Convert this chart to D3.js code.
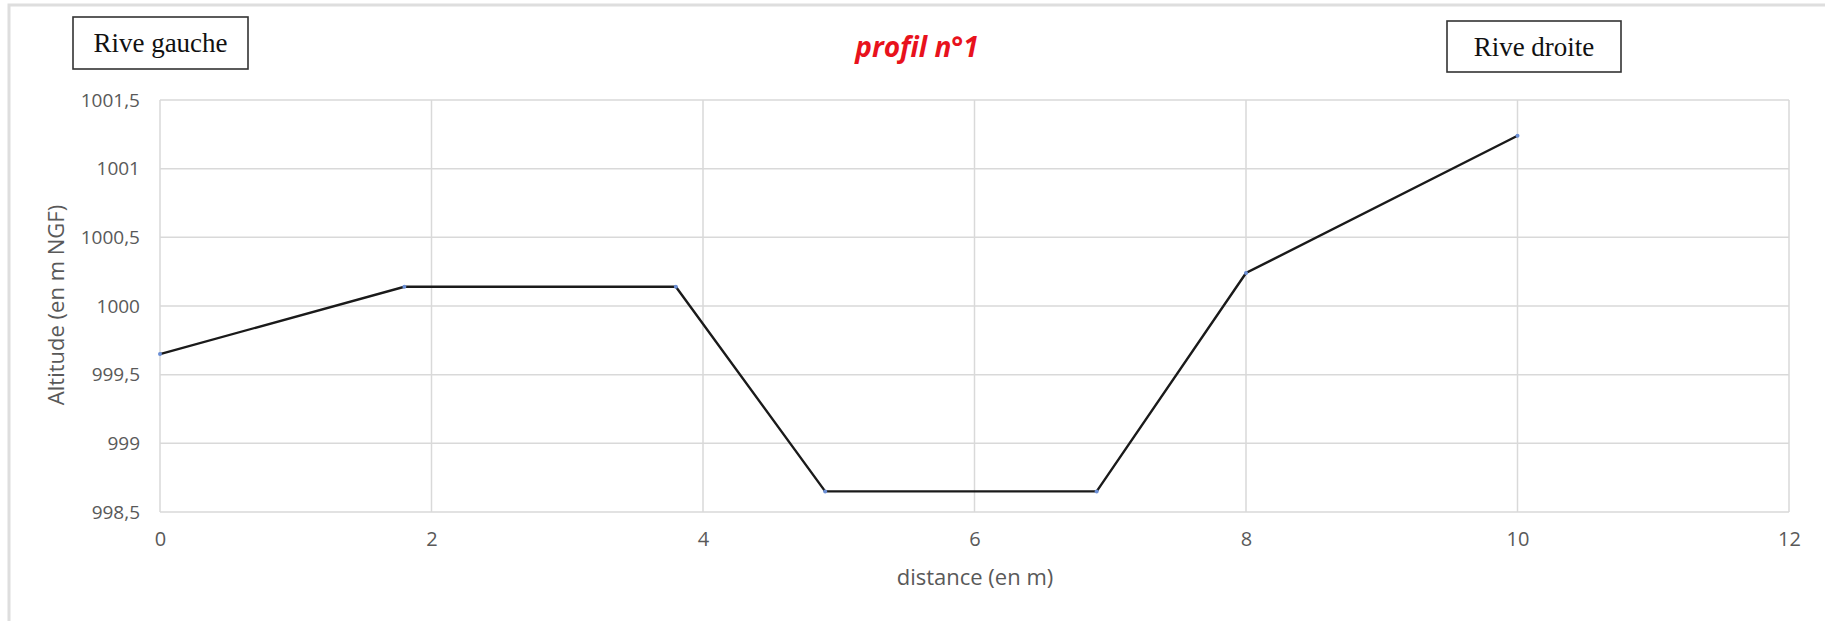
<!DOCTYPE html>
<html>
<head>
<meta charset="utf-8">
<script src="https://cdn.jsdelivr.net/npm/d3@7/dist/d3.min.js"></script>
<style>
  html, body { margin: 0; padding: 0; background: #fff; }
  svg { display: block; }
  .tick text { fill: #595959; font-family: "Open Sans", sans-serif; }
</style>
</head>
<body>
<div id="chart"></div>
<script>
"use strict";

// profile points
var distances = [0, 1.8, 3.8, 4.9, 6.9, 8, 10];
var altitudes = [999.65, 1000.14, 1000.14, 998.65, 998.65, 1000.24, 1001.24];

var xTicks = [0, 2, 4, 6, 8, 10, 12];
var yTicks = [998.5, 999, 999.5, 1000, 1000.5, 1001, 1001.5];

var title = "profil n°1";
var xTitle = "distance (en m)";
var yTitle = "Altitude (en m NGF)";
var bankLeft = "Rive gauche";
var bankRight = "Rive droite";

var W = 1825, H = 621;
var margin = { top: 100, right: 36, bottom: 109, left: 160 },
    width = W - margin.left - margin.right,
    height = H - margin.top - margin.bottom;

var svg = d3.select("#chart")
            .append("svg")
            .attr("width", W)
            .attr("height", H);

// outer frame (only top/left inside the picture)
svg.append("rect")
   .attr("x", 9).attr("y", 5)
   .attr("width", W + 20).attr("height", H + 20)
   .attr("fill", "none")
   .attr("stroke", "#dedede")
   .attr("stroke-width", 3);

var g = svg.append("g")
           .attr("transform", "translate(" + margin.left + "," + margin.top + ")");

var x = d3.scaleLinear().domain([0, 12]).range([0, width]);
var y = d3.scaleLinear().domain([998.5, 1001.5]).range([height, 0]);

var fmt = function (d) { return String(d).replace(".", ","); };

// gridlines
g.append("g")
 .selectAll("line.h")
 .data(yTicks)
 .enter()
 .append("line")
 .attr("x1", 0).attr("x2", width)
 .attr("y1", function (d) { return y(d); })
 .attr("y2", function (d) { return y(d); })
 .attr("stroke", "#d9d9d9")
 .attr("stroke-width", 1.5);

g.append("g")
 .selectAll("line.v")
 .data(xTicks)
 .enter()
 .append("line")
 .attr("y1", 0).attr("y2", height)
 .attr("x1", function (d) { return x(d); })
 .attr("x2", function (d) { return x(d); })
 .attr("stroke", "#d9d9d9")
 .attr("stroke-width", 1.5);

// axes (labels only)
var xAxis = d3.axisBottom(x).tickValues(xTicks).tickFormat(fmt).tickSize(0).tickPadding(20);
var yAxis = d3.axisLeft(y).tickValues(yTicks).tickFormat(fmt).tickSize(0).tickPadding(20);

g.append("g")
 .attr("transform", "translate(0," + height + ")")
 .call(xAxis)
 .call(function (s) { s.select(".domain").remove(); })
 .selectAll("text").style("font-size", "20px");

g.append("g")
 .call(yAxis)
 .call(function (s) { s.select(".domain").remove(); })
 .selectAll("text").style("font-size", "19px");

// profile line
var pts = distances.map(function (d, i) { return [d, altitudes[i]]; });
var line = d3.line()
             .x(function (d) { return x(d[0]); })
             .y(function (d) { return y(d[1]); });

g.append("path")
 .datum(pts)
 .attr("d", line)
 .attr("fill", "none")
 .attr("stroke", "#1a1a1a")
 .attr("stroke-width", 2.4);

g.selectAll(".pt")
 .data(pts)
 .enter()
 .append("circle")
 .attr("cx", function (d) { return x(d[0]); })
 .attr("cy", function (d) { return y(d[1]); })
 .attr("r", 2)
 .attr("fill", "#6b8fd6");

// titles
svg.append("text")
   .attr("x", 917).attr("y", 57)
   .attr("text-anchor", "middle")
   .style("font-family", "'Open Sans', sans-serif")
   .style("font-size", "28px")
   .style("font-weight", "bold")
   .style("font-style", "italic")
   .attr("fill", "#e8121c")
   .text(title);

svg.append("text")
   .attr("x", 975).attr("y", 585)
   .attr("text-anchor", "middle")
   .style("font-family", "'Open Sans', sans-serif")
   .style("font-size", "22px")
   .attr("fill", "#595959")
   .text(xTitle);

svg.append("text")
   .attr("transform", "translate(64,305) rotate(-90)")
   .attr("text-anchor", "middle")
   .style("font-family", "'Open Sans', sans-serif")
   .style("font-size", "22px")
   .attr("fill", "#595959")
   .text(yTitle);

// bank labels
function bankBox(x0, y0, x1, y1, baseline, label) {
  svg.append("rect")
     .attr("x", x0).attr("y", y0)
     .attr("width", x1 - x0).attr("height", y1 - y0)
     .attr("fill", "#fff")
     .attr("stroke", "#333")
     .attr("stroke-width", 1.6);
  svg.append("text")
     .attr("x", (x0 + x1) / 2).attr("y", baseline)
     .attr("text-anchor", "middle")
     .style("font-family", "'Liberation Serif', 'Times New Roman', serif")
     .style("font-size", "27px")
     .attr("fill", "#111")
     .text(label);
}
bankBox(73, 17, 248, 69, 52, bankLeft);
bankBox(1447, 21, 1621, 72, 56, bankRight);
</script>
</body>
</html>
